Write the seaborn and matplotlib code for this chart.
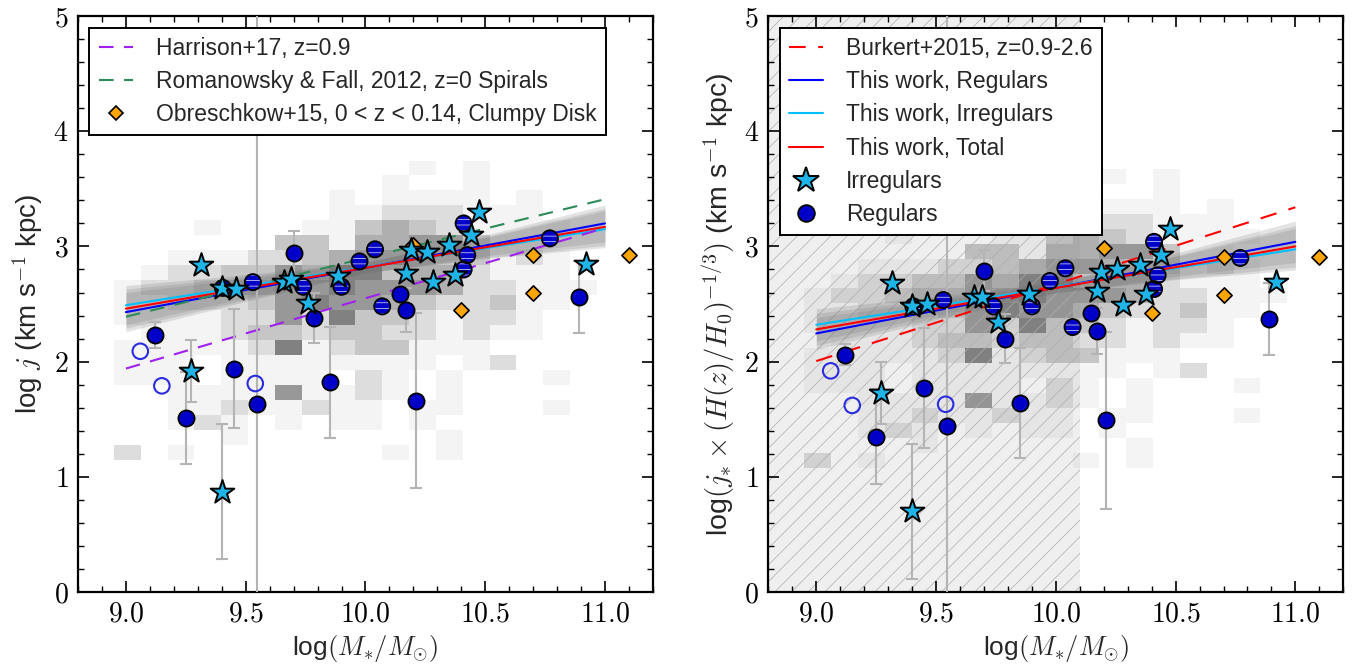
import numpy as np
import matplotlib
matplotlib.use("Agg")
import matplotlib.pyplot as plt
import seaborn as sns
from matplotlib.colors import LinearSegmentedColormap
from matplotlib.ticker import MultipleLocator, FuncFormatter
from matplotlib.lines import Line2D

# ---------------------------------------------------------------- data
# Regulars (filled circles)
reg_x  = [9.12, 9.25, 9.45, 9.546, 9.70, 9.787, 9.85, 10.145, 10.17, 10.21, 10.89]
reg_jL = [2.23, 1.51, 1.94, 1.63, 2.945, 2.38, 1.82, 2.59, 2.45, 1.66, 2.56]
reg_jR = [2.06, 1.35, 1.77, 1.44, 2.79, 2.20, 1.64, 2.42, 2.27, 1.49, 2.37]
reg_eL = [0.11, 0.40, 0.52, 3.60, 0.19, 0.22, 0.48, 0.00, 0.19, 0.76, 0.31]
reg_eR = [0.09, 0.41, 0.52, 3.60, 0.18, 0.21, 0.48, 0.00, 0.20, 0.77, 0.31]

# Regulars drawn with stripes
rs_x  = [9.405, 9.53, 9.74, 9.90, 9.975, 10.04, 10.07, 10.41, 10.425, 10.41, 10.77]
rs_jL = [2.64, 2.69, 2.65, 2.65, 2.87, 2.975, 2.48, 3.20, 2.925, 2.80, 3.07]
rs_jR = [2.48, 2.535, 2.48, 2.48, 2.70, 2.81, 2.30, 3.04, 2.75, 2.63, 2.90]

# open circles
op_x  = [9.06, 9.15, 9.54]
op_jL = [2.09, 1.79, 1.81]
op_jR = [1.92, 1.62, 1.63]

# Irregulars (stars)
irr_x  = [9.27, 9.315, 9.40, 9.40, 9.46, 9.66, 9.69, 9.76, 9.887, 10.17,
          10.19, 10.256, 10.28, 10.35, 10.375, 10.44, 10.476, 10.92]
irr_jL = [1.92, 2.84, 0.87, 2.64, 2.63, 2.69, 2.72, 2.51, 2.74, 2.77,
          2.97, 2.95, 2.69, 3.01, 2.75, 3.10, 3.30, 2.85]
irr_jR = [1.73, 2.68, 0.70, 2.48, 2.50, 2.56, 2.56, 2.34, 2.59, 2.61,
          2.78, 2.80, 2.49, 2.84, 2.59, 2.925, 3.15, 2.69]
irr_e  = [0.27, 0, 0.585, 0, 0, 0, 0, 0, 0, 0, 0, 0, 0, 0, 0, 0, 0, 0]

# Obreschkow+15 clumpy disks
obr_x  = [10.20, 10.40, 10.70, 10.70, 11.10]
obr_jL = [3.01, 2.45, 2.925, 2.60, 2.925]
obr_jR = [2.99, 2.42, 2.91, 2.58, 2.905]

# literature relations (end points at logM = 9.0 and 11.0)
rel_x = [9.0, 11.0]
harrison_j  = [1.94, 3.16]
romanowsky_j = [2.39, 3.41]
burkert_j   = [2.005, 3.34]

# fits of this work (end points at 9.0, 11.0)
fitL_reg = [2.43, 3.20]
fitL_irr = [2.49, 3.15]
fitL_tot = [2.46, 3.17]
fitR_reg = [2.245, 3.04]
fitR_irr = [2.32, 2.975]
fitR_tot = [2.28, 3.00]

# confidence band half-widths
band_x  = [9.0, 9.5, 10.0, 10.5, 11.0]
bandL_hw = [0.17, 0.10, 0.045, 0.09, 0.16]
bandR_hw = [0.14, 0.08, 0.045, 0.10, 0.18]

# background 2D histogram (simulated galaxies); rows top -> bottom, level 0-9
histL = [
    "000000000001010000",
    "000000000010010000",
    "000000001011110100",
    "000000001122211100",
    "000100011343211110",
    "000000331445531100",
    "001112234554331210",
    "012233546634421110",
    "122344556555422111",
    "112223565543223110",
    "111122526332122100",
    "011123323322121100",
    "111112612331110000",
    "111011111111012000",
    "111011110210100010",
    "001111511210100000",
    "001121121101100010",
    "001210101101000000",
    "000010000000100000",
    "201000000010100000",
]
histR = [
    "000000000001010000",
    "000000000010010000",
    "000000001011110100",
    "000000001122211100",
    "000100011343211110",
    "000000331445531100",
    "001112234554331210",
    "012233546634421110",
    "122344556555422111",
    "112223565543223110",
    "111122526332122100",
    "011123323322121100",
    "111112612331110000",
    "111011111111012000",
    "111011110210100010",
    "001111511210100000",
    "001121121101100010",
    "001210101101000000",
    "000010000000100000",
    "201000000010100000",
]
hist_x0, hist_dx = 8.95, 0.112
histL_y0, histR_y0, hist_dy = 1.146, 1.075, 0.13
hatch_xmax = 10.1

# ---------------------------------------------------------------- style
sns.set_style("ticks")
plt.rcParams.update({
    "font.family": ["Liberation Sans", "DejaVu Sans"],
    "mathtext.fontset": "cm",
    "hatch.linewidth": 0.5,
    "axes.linewidth": 1.6,
})

C_REG = "#0000c8"
C_IRR = "#1fb4e8"
C_OPEN = "#2b2be0"
C_ERR = "#b4b4b4"
C_HARR = "#a020f0"
cmap = LinearSegmentedColormap.from_list("g", ["#f4f4f4", "#6a6a6a"])

fig = plt.figure(figsize=(13.69, 6.72), dpi=100)
axL = fig.add_axes([0.0570, 0.1190, 0.4199, 0.8571])
axR = fig.add_axes([0.5613, 0.1190, 0.4199, 0.8571])


def draw_hist(ax, rows, y0):
    nx = len(rows[0]); ny = len(rows)
    xe = hist_x0 + hist_dx * np.arange(nx + 1)
    ye = y0 + hist_dy * np.arange(ny + 1)
    xc, yc, w = [], [], []
    for i, row in enumerate(rows):
        k = ny - 1 - i
        for j, ch in enumerate(row):
            if ch != "0":
                xc.append(0.5 * (xe[j] + xe[j + 1]))
                yc.append(0.5 * (ye[k] + ye[k + 1]))
                w.append(int(ch))
    sns.histplot(x=xc, y=yc, weights=w, bins=(xe, ye), cmap=cmap,
                 vmin=1, vmax=7, ax=ax, zorder=0)


def draw_fits(ax, fits, colors, hw):
    bx = np.array(band_x)
    for f in fits:
        centre = f[0] + (f[1] - f[0]) * (bx - rel_x[0]) / (rel_x[1] - rel_x[0])
        ax.fill_between(bx, centre - np.array(hw), centre + np.array(hw),
                        color="0.45", alpha=0.2, lw=0, zorder=1)
    for f, c in zip(fits, colors):
        sns.lineplot(x=rel_x, y=f, color=c, lw=1.5, ax=ax, zorder=2)


def draw_points(ax, jreg, ereg, jrs, jop, jirr, jobr):
    ax.errorbar(reg_x, jreg, yerr=ereg, fmt="none", ecolor=C_ERR,
                elinewidth=1.5, capsize=4.5, capthick=1.5, zorder=3)
    ax.errorbar(irr_x, jirr, yerr=irr_e, fmt="none", ecolor=C_ERR,
                elinewidth=1.5, capsize=4.5, capthick=1.5, zorder=3)
    sns.scatterplot(x=obr_x, y=jobr, marker="D", s=60, color="#ffa500",
                    edgecolor="k", linewidth=1.2, ax=ax, zorder=4, legend=False)
    ax.scatter(op_x, jop, s=125, facecolors="none", edgecolors=C_OPEN,
               linewidths=1.5, zorder=5)
    sns.scatterplot(x=reg_x, y=jreg, marker="o", s=135, color=C_REG,
                    edgecolor="k", linewidth=1.3, ax=ax, zorder=5, legend=False)
    sns.scatterplot(x=rs_x, y=jrs, marker="o", s=135, color=C_REG,
                    edgecolor="#e6e6ff", linewidth=0, hatch="---",
                    ax=ax, zorder=5, legend=False)
    ax.scatter(rs_x, jrs, s=135, facecolors="none", edgecolors="k",
               linewidths=1.3, zorder=5.1)
    sns.scatterplot(x=irr_x, y=jirr, marker="*", s=320, color=C_IRR,
                    edgecolor="k", linewidth=1.4, ax=ax, zorder=6, legend=False)


# ---------------- left panel
draw_hist(axL, histL, histL_y0)
draw_fits(axL, [fitL_reg, fitL_irr, fitL_tot], ["#0000ff", "#00bfff", "#ff0000"], bandL_hw)
sns.lineplot(x=rel_x, y=harrison_j, color=C_HARR, lw=1.5, ax=axL, zorder=2)
axL.lines[-1].set_dashes((7, 5))
sns.lineplot(x=rel_x, y=romanowsky_j, color="#2e8b57", lw=1.5, ax=axL, zorder=2)
axL.lines[-1].set_dashes((7, 5))
draw_points(axL, reg_jL, reg_eL, rs_jL, op_jL, irr_jL, obr_jL)

# ---------------- right panel
draw_hist(axR, histR, histR_y0)
axR.axvspan(8.8, hatch_xmax, facecolor=(0.5, 0.5, 0.5, 0.12), edgecolor="0.68",
            hatch="//", linewidth=0, zorder=0.5)
draw_fits(axR, [fitR_reg, fitR_irr, fitR_tot], ["#0000ff", "#00bfff", "#ff0000"], bandR_hw)
sns.lineplot(x=rel_x, y=burkert_j, color="#ff0000", lw=1.5, ax=axR, zorder=2)
axR.lines[-1].set_dashes((8, 6))
draw_points(axR, reg_jR, reg_eR, rs_jR, op_jR, irr_jR, obr_jR)

# ---------------- axes cosmetics
for ax in (axL, axR):
    ax.set_xlim(8.8, 11.2)
    ax.set_ylim(0, 5)
    ax.xaxis.set_major_locator(MultipleLocator(0.5))
    ax.xaxis.set_minor_locator(MultipleLocator(0.1))
    ax.yaxis.set_major_locator(MultipleLocator(1))
    ax.yaxis.set_minor_locator(MultipleLocator(0.2))
    ax.tick_params(which="both", direction="in", top=True, right=True, colors="k")
    ax.tick_params(which="major", length=8, width=1.2, labelsize=20, pad=7)
    ax.tick_params(which="minor", length=4, width=1.0)
    ax.xaxis.set_major_formatter(FuncFormatter(lambda v, p: f"${v:.1f}$"))
    ax.yaxis.set_major_formatter(FuncFormatter(lambda v, p: f"${v:.0f}$"))
    for s in ax.spines.values():
        s.set_linewidth(1.6)
        s.set_color("k")
    ax.set_xlabel(r"log$(M_{*}/M_{\odot})$", fontsize=19, labelpad=4)

axL.set_ylabel(r"log $j$ (km s$^{-1}$ kpc)", fontsize=20, labelpad=6)
axR.set_ylabel(r"log$(j_{*}\times(H(z)/H_0)^{-1/3})$ (km s$^{-1}$ kpc)", fontsize=20.5, labelpad=5)

# ---------------- legends
leg_kw = dict(loc="upper left", fontsize=16.5, frameon=True, fancybox=False,
              framealpha=1, edgecolor="k", handlelength=1.5, handletextpad=1.0,
              borderpad=0.4, labelspacing=0.45, borderaxespad=0.5)
hL = [Line2D([], [], color=C_HARR, lw=1.5, dashes=(7, 5)),
      Line2D([], [], color="#2e8b57", lw=1.5, dashes=(7, 5)),
      Line2D([], [], ls="none", marker="D", ms=7.5, mfc="#ffa500", mec="k", mew=1.2)]
lL = ["Harrison+17, z=0.9", "Romanowsky & Fall, 2012, z=0 Spirals",
      "Obreschkow+15, 0 < z < 0.14, Clumpy Disk"]
legL = axL.legend(hL, lL, **leg_kw)
legL.get_frame().set_linewidth(1.4)

hR = [Line2D([], [], color="#ff0000", lw=1.5, dashes=(8, 6)),
      Line2D([], [], color="#0000ff", lw=1.5),
      Line2D([], [], color="#00bfff", lw=1.5),
      Line2D([], [], color="#ff0000", lw=1.5),
      Line2D([], [], ls="none", marker="*", ms=19, mfc=C_IRR, mec="k", mew=1.4),
      Line2D([], [], ls="none", marker="o", ms=12, mfc=C_REG, mec="k", mew=1.3)]
lR = ["Burkert+2015, z=0.9-2.6", "This work, Regulars", "This work, Irregulars",
      "This work, Total", "Irregulars", "Regulars"]
legR = axR.legend(hR, lR, **leg_kw)
legR.get_frame().set_linewidth(1.4)

fig.savefig("out.png", dpi=100)
